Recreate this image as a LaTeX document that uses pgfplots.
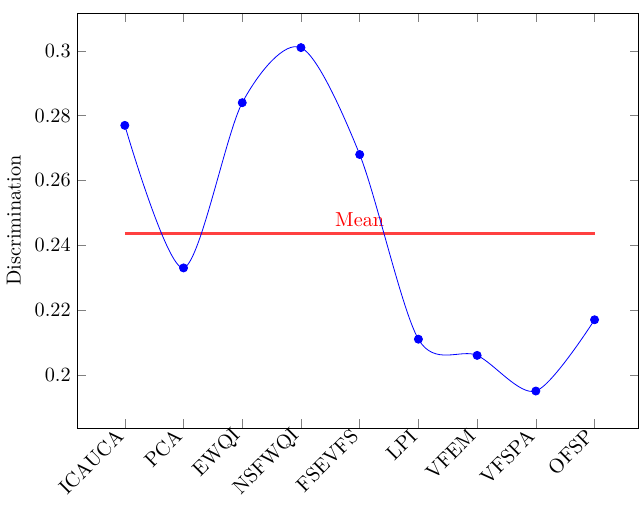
\documentclass[border=0pt]{standalone}
\usepackage{pgfplots}
\pgfplotsset{compat=1.18}
\begin{document}
\begin{tikzpicture}
\begin{axis}[
  scale only axis,
  width=277pt, height=205pt,
  xmin=-0.80, xmax=8.75,
  ymin=0.1836, ymax=0.3117,
  xtick={0,1,2,3,4,5,6,7,8},
  xticklabels={ICAUCA,PCA,EWQI,NSFWQI,FSEVFS,LPI,VFEM,VFSPA,OFSP},
  x tick label style={rotate=45, anchor=east},
  ytick={0.2,0.22,0.24,0.26,0.28,0.3},
  yticklabels={0.2,0.22,0.24,0.26,0.28,0.3},
  ylabel={Discrimination},
]
% mean of the nine scores
\addplot[color=red!75, smooth, line width=1.2pt, mark=none] coordinates {
  (0,0.2436) (4,0.2436) (8,0.2436)
};
\node[text=red, above] at (axis cs:4,0.2436) {Mean};
\addplot[color=blue, smooth, mark=*, mark options={fill=blue}] coordinates {
  (0,0.277) (1,0.233) (2,0.284) (3,0.301) (4,0.268)
  (5,0.211) (6,0.206) (7,0.195) (8,0.217)
};
\end{axis}
% white margin above the frame
\path ([yshift=6.4pt]current axis.north west);
\end{tikzpicture}
\end{document}
